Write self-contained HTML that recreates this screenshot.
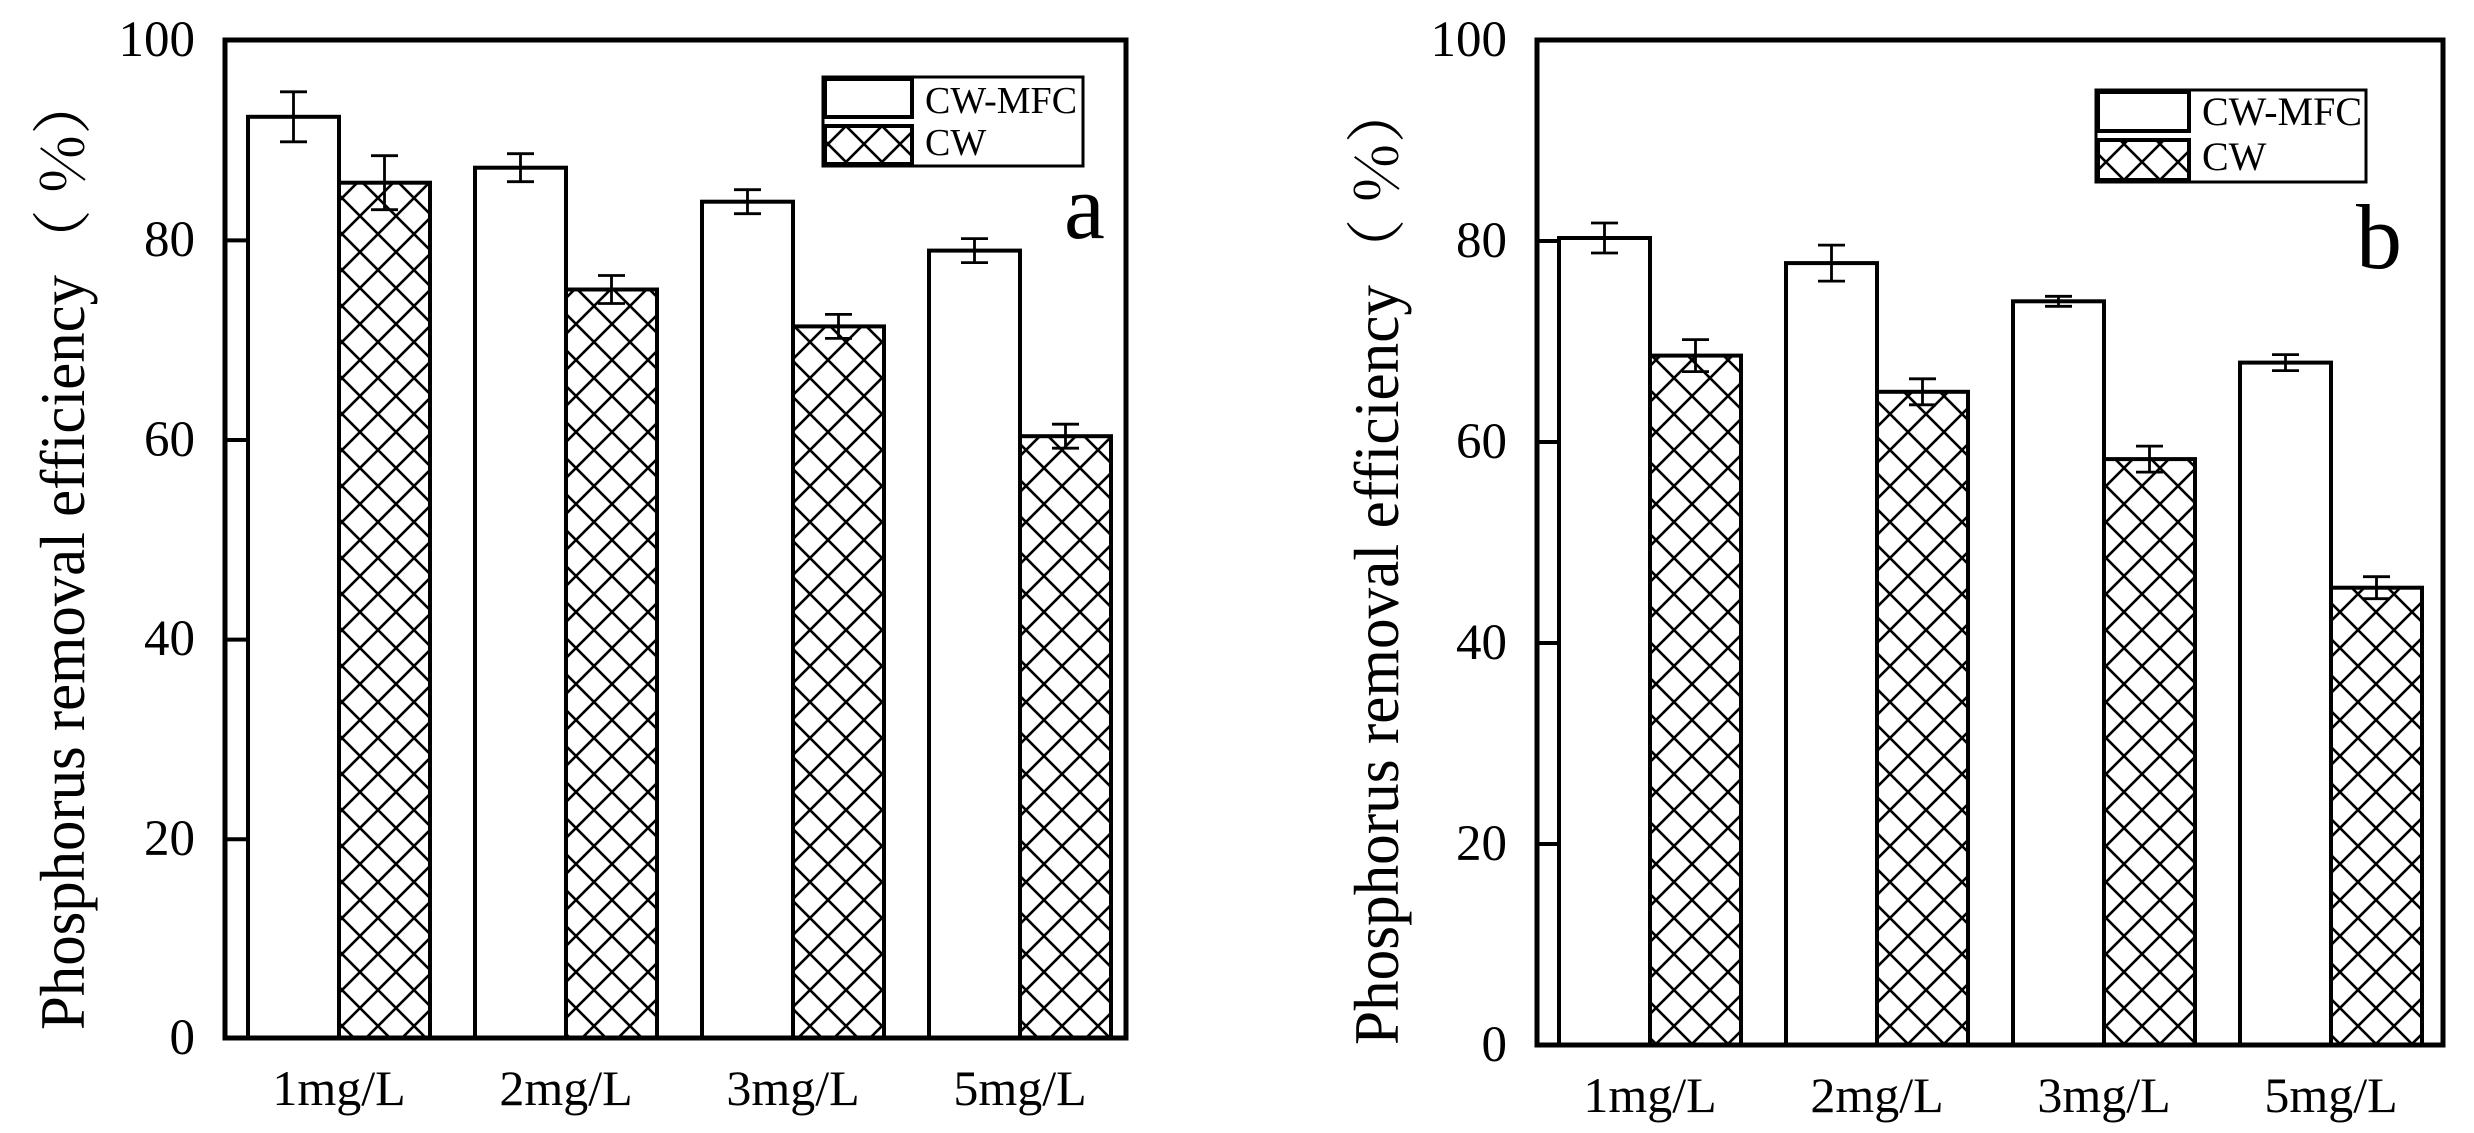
<!DOCTYPE html>
<html><head><meta charset="utf-8"><style>html,body{margin:0;padding:0;background:#fff}svg{display:block}</style></head>
<body>
<svg width="2474" height="1133" viewBox="0 0 2474 1133" xmlns="http://www.w3.org/2000/svg" font-family="'Liberation Serif',serif">
<defs>
<pattern id="h" patternUnits="userSpaceOnUse" width="36" height="36">
<path d="M0,0L36,36M36,0L0,36M-4,32L4,40M32,-4L40,4M-4,4L4,-4M32,40L40,32" stroke="#000" stroke-width="2.6" fill="none"/>
</pattern>
</defs>
<rect width="2474" height="1133" fill="#fff"/>

<!-- Panel a -->
<g stroke="#000" stroke-width="4" fill="#fff">
<rect x="248" y="116.8" width="91" height="921.2"/>
<rect x="475" y="167.7" width="91" height="870.3"/>
<rect x="702" y="201.7" width="91" height="836.3"/>
<rect x="929" y="250.6" width="91" height="787.4"/>
<rect x="339" y="182.7" width="91" height="855.3" fill="url(#h)"/>
<rect x="566" y="289.5" width="91" height="748.5" fill="url(#h)"/>
<rect x="793" y="326.4" width="91" height="711.6" fill="url(#h)"/>
<rect x="1020" y="436.2" width="91" height="601.8" fill="url(#h)"/>
</g>
<g stroke="#000" stroke-width="2.8" fill="none">
<path d="M293.5,91.8V141.8M280,91.8H307M280,141.8H307"/>
<path d="M520.5,153.7V181.7M507,153.7H534M507,181.7H534"/>
<path d="M747.5,189.7V213.7M734,189.7H761M734,213.7H761"/>
<path d="M974.5,238.6V262.6M961,238.6H988M961,262.6H988"/>
<path d="M384.5,155.7V209.7M371,155.7H398M371,209.7H398"/>
<path d="M611.5,275.5V303.5M598,275.5H625M598,303.5H625"/>
<path d="M838.5,314.4V338.4M825,314.4H852M825,338.4H852"/>
<path d="M1065.5,424.2V448.2M1052,424.2H1079M1052,448.2H1079"/>
</g>
<rect x="225" y="40" width="901" height="998" fill="none" stroke="#000" stroke-width="5"/>
<path d="M225,240.4H246M225,440H246M225,639.6H246M225,839.2H246" stroke="#000" stroke-width="4"/>
<g font-size="51" text-anchor="end">
<text x="195" y="56">100</text><text x="195" y="256">80</text><text x="195" y="456">60</text>
<text x="195" y="655">40</text><text x="195" y="855">20</text><text x="195" y="1054">0</text>
</g>
<g font-size="50" text-anchor="middle">
<text x="339" y="1105">1mg/L</text><text x="566" y="1105">2mg/L</text><text x="793" y="1105">3mg/L</text><text x="1020" y="1105">5mg/L</text>
</g>
<text transform="translate(84,1030) rotate(-90)" font-family="'Liberation Serif',serif" font-size="63" textLength="755" lengthAdjust="spacingAndGlyphs">Phosphorus removal efficiency</text>
<text transform="translate(84,272) rotate(-90)" font-family="'Noto Serif CJK SC','Liberation Serif',serif" font-size="60" textLength="200" lengthAdjust="spacingAndGlyphs">（ %）</text>
<rect x="823" y="77" width="260" height="89" fill="#fff" stroke="#000" stroke-width="3"/>
<rect x="825" y="79" width="87" height="38" fill="#fff" stroke="#000" stroke-width="4"/>
<rect x="825" y="126" width="87" height="38" fill="url(#h)" stroke="#000" stroke-width="4"/>
<g font-size="38"><text x="925" y="113">CW-MFC</text><text x="925" y="155">CW</text></g>
<text x="1064" y="238" font-size="92">a</text>

<!-- Panel b -->
<g stroke="#000" stroke-width="4" fill="#fff">
<rect x="1559" y="238" width="91" height="807"/>
<rect x="1786" y="263.1" width="91" height="781.9"/>
<rect x="2013" y="301.3" width="91" height="743.7"/>
<rect x="2240" y="362.6" width="91" height="682.4"/>
<rect x="1650" y="355.6" width="91" height="689.4" fill="url(#h)"/>
<rect x="1877" y="391.8" width="91" height="653.2" fill="url(#h)"/>
<rect x="2104" y="459.1" width="91" height="585.9" fill="url(#h)"/>
<rect x="2331" y="587.7" width="91" height="457.3" fill="url(#h)"/>
</g>
<g stroke="#000" stroke-width="2.8" fill="none">
<path d="M1604.5,223V253M1591,223H1618M1591,253H1618"/>
<path d="M1831.5,245.1V281.1M1818,245.1H1845M1818,281.1H1845"/>
<path d="M2058.5,296.3V306.3M2045,296.3H2072M2045,306.3H2072"/>
<path d="M2285.5,354.6V370.6M2272,354.6H2299M2272,370.6H2299"/>
<path d="M1695.5,339.6V371.6M1682,339.6H1709M1682,371.6H1709"/>
<path d="M1922.5,378.8V404.8M1909,378.8H1936M1909,404.8H1936"/>
<path d="M2149.5,446.1V472.1M2136,446.1H2163M2136,472.1H2163"/>
<path d="M2376.5,576.7V598.7M2363,576.7H2390M2363,598.7H2390"/>
</g>
<rect x="1537" y="40" width="906" height="1005" fill="none" stroke="#000" stroke-width="5"/>
<path d="M1537,241H1558M1537,442H1558M1537,643H1558M1537,844H1558" stroke="#000" stroke-width="4"/>
<g font-size="51" text-anchor="end">
<text x="1507" y="56">100</text><text x="1507" y="257">80</text><text x="1507" y="458">60</text>
<text x="1507" y="659">40</text><text x="1507" y="860">20</text><text x="1507" y="1061">0</text>
</g>
<g font-size="50" text-anchor="middle">
<text x="1650" y="1112">1mg/L</text><text x="1877" y="1112">2mg/L</text><text x="2104" y="1112">3mg/L</text><text x="2331" y="1112">5mg/L</text>
</g>
<text transform="translate(1398,1045) rotate(-90)" font-family="'Liberation Serif',serif" font-size="63" textLength="760" lengthAdjust="spacingAndGlyphs">Phosphorus removal efficiency</text>
<text transform="translate(1398,282) rotate(-90)" font-family="'Noto Serif CJK SC','Liberation Serif',serif" font-size="60" textLength="202" lengthAdjust="spacingAndGlyphs">（ %）</text>
<rect x="2096" y="90" width="270" height="92" fill="#fff" stroke="#000" stroke-width="3"/>
<rect x="2098" y="92" width="91" height="39" fill="#fff" stroke="#000" stroke-width="4"/>
<rect x="2098" y="140" width="91" height="40" fill="url(#h)" stroke="#000" stroke-width="4"/>
<g font-size="40"><text x="2202" y="125">CW-MFC</text><text x="2202" y="170">CW</text></g>
<text x="2356" y="268" font-size="92">b</text>
</svg>
</body></html>
